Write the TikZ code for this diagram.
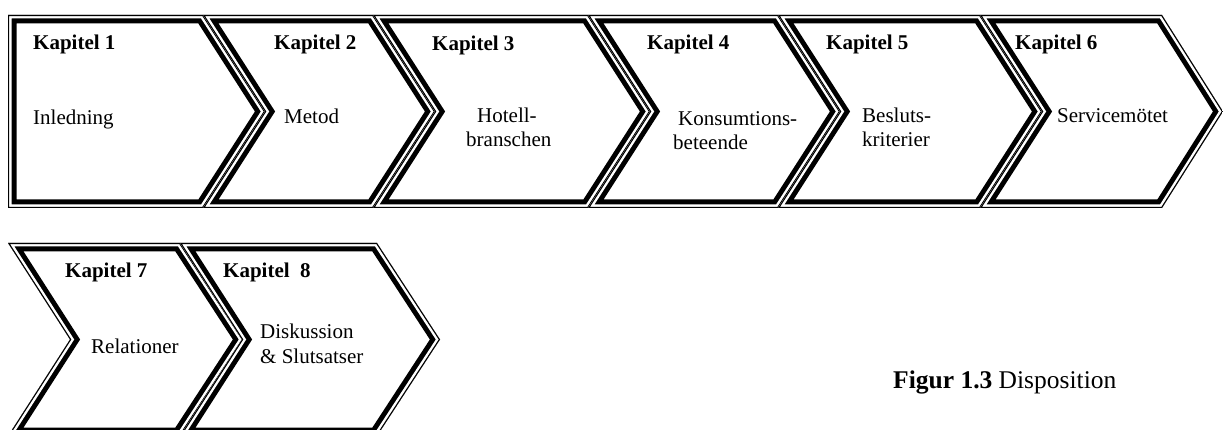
\documentclass[tikz,border=0pt]{standalone}
\usepackage{fontspec}
\setmainfont{Liberation Serif}
\newcommand{\chevronshape}[6]{%
  % #1 left x, #2 right x, #3 top y, #4 bottom y, #5 notch depth, #6 tip depth
  \begin{scope}
    \clip (#1,#3) -- (#2,#3) -- ({#2+#6},{(#3+#4)/2}) -- (#2,#4) -- (#1,#4) -- ({#1+#5},{(#3+#4)/2}) -- cycle;
    \fill[white] (#1,#3) -- (#2,#3) -- ({#2+#6},{(#3+#4)/2}) -- (#2,#4) -- (#1,#4) -- ({#1+#5},{(#3+#4)/2}) -- cycle;
    \draw[thickband] (#1,#3) -- (#2,#3) -- ({#2+#6},{(#3+#4)/2}) -- (#2,#4) -- (#1,#4) -- ({#1+#5},{(#3+#4)/2}) -- cycle;
    \draw[gapband] (#1,#3) -- (#2,#3) -- ({#2+#6},{(#3+#4)/2}) -- (#2,#4) -- (#1,#4) -- ({#1+#5},{(#3+#4)/2}) -- cycle;
    \draw[thinband] (#1,#3) -- (#2,#3) -- ({#2+#6},{(#3+#4)/2}) -- (#2,#4) -- (#1,#4) -- ({#1+#5},{(#3+#4)/2}) -- cycle;
  \end{scope}}
\tikzset{
  thickband/.style={black, line width=17pt, line join=miter},
  gapband/.style={white, line width=7pt, line join=miter},
  thinband/.style={black, line width=2.2pt, line join=miter},
  chevtext/.style={anchor=base west, inner sep=0pt, font=\fontsize{21}{24}\selectfont},
  kaptext/.style={chevtext, font=\fontsize{21}{24}\selectfont\bfseries},
  captext/.style={anchor=base west, inner sep=0pt, font=\fontsize{25.5}{30}\selectfont}
}
\begin{document}
\begin{tikzpicture}[x=1pt, y=-1pt]
\useasboundingbox (0,0) rectangle (1223,430);
\clip (0,0) rectangle (1223,430);
\fill[white] (0,0) rectangle (1223,430);
% row 1
\chevronshape{8}{203}{15}{208}{0}{62}
\chevronshape{203}{373}{15}{208}{62}{62}
\chevronshape{373}{588}{15}{208}{62}{62}
\chevronshape{588}{778}{15}{208}{62}{62}
\chevronshape{778}{980}{15}{208}{62}{62}
\chevronshape{980}{1162}{15}{208}{62}{61}
% row 2
\chevronshape{8}{180}{243}{436}{62}{63}
\chevronshape{180}{377}{243}{436}{62}{63}
% texts
\node[kaptext] (k1) at (33,50) {Kapitel 1};
\node[chevtext] (t1) at (33,125) {Inledning};
\node[kaptext] (k2) at (274,50) {Kapitel 2};
\node[chevtext] (t2) at (284,124) {Metod};
\node[kaptext] (k3) at (432,51) {Kapitel 3};
\node[chevtext] (t3a) at (477,123) {Hotell-};
\node[chevtext] (t3b) at (466,147) {branschen};
\node[kaptext] (k4) at (647,50) {Kapitel 4};
\node[chevtext] (t4a) at (678,126) {Konsumtions-};
\node[chevtext] (t4b) at (673,150) {beteende};
\node[kaptext] (k5) at (826,50) {Kapitel 5};
\node[chevtext] (t5a) at (862,123) {Besluts-};
\node[chevtext] (t5b) at (862,147) {kriterier};
\node[kaptext] (k6) at (1015,50) {Kapitel 6};
\node[chevtext] (t6) at (1057,123) {Servicemötet};
\node[kaptext] (k7) at (65,278) {Kapitel 7};
\node[chevtext] (t7) at (91,353) {Relationer};
\node[kaptext] (k8) at (223,278) {Kapitel\ \ 8};
\node[chevtext] (t8a) at (260,338) {Diskussion};
\node[chevtext] (t8b) at (260,363) {\& Slutsatser};
\node[captext] (cap) at (893,388) {\textbf{Figur 1.3} Disposition};
\end{tikzpicture}
\end{document}
